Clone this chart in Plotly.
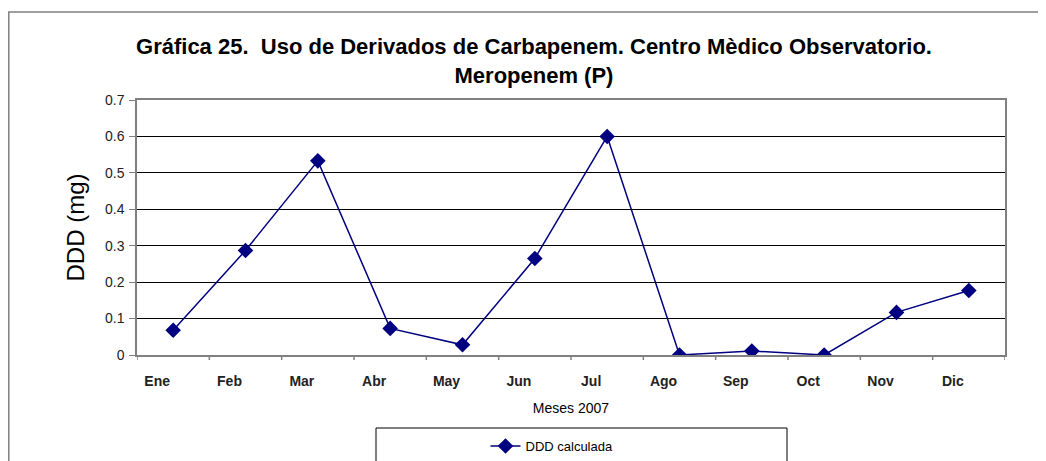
import plotly.graph_objects as go

months = ["Ene", "Feb", "Mar", "Abr", "May", "Jun", "Jul", "Ago", "Sep", "Oct", "Nov", "Dic"]
ddd = [0.068, 0.287, 0.533, 0.073, 0.028, 0.265, 0.600, 0.0, 0.011, 0.0, 0.117, 0.177]
y_ticks = [0, 0.1, 0.2, 0.3, 0.4, 0.5, 0.6, 0.7]
y_tick_text = ["0", "0.1", "0.2", "0.3", "0.4", "0.5", "0.6", "0.7"]

navy = "#000080"
font = "Liberation Sans, Arial, sans-serif"

# the page places the figure 8px from the top-left corner
OFF = 8
W, H = 1046, 461
l, r, t, b = 137 - OFF, W - (1005 - OFF), 100 - OFF, H - (355 - OFF)
PW, PH = W - l - r, H - t - b


def px(x):  # page x -> paper x
    return (x - OFF - l) / PW


def py(y):  # page y -> paper y
    return (H - b - (y - OFF)) / PH


fig = go.Figure()
fig.add_trace(go.Scatter(
    x=list(range(len(months))), y=ddd, mode="lines+markers",
    name="DDD calculada",
    line=dict(color=navy, width=1.5),
    marker=dict(symbol="diamond", size=12, color=navy),
))

fig.update_layout(
    width=W, height=H,
    margin=dict(l=l, r=r, t=t, b=b, autoexpand=False),
    paper_bgcolor="white", plot_bgcolor="white",
    font=dict(family=font, color="black"),
    title=dict(
        text="<b>Gráfica 25.  Uso de Derivados de Carbapenem. Centro Mèdico Observatorio.<br>Meropenem (P)</b>",
        x=(534 - OFF) / W, xanchor="center",
        y=1 - (54 - OFF) / H, yanchor="middle",
        xref="container", yref="container",
        font=dict(size=22, family=font),
    ),
    showlegend=True,
    legend=dict(
        x=px(552), xanchor="center",
        y=py(446), yanchor="middle",
        bgcolor="rgba(0,0,0,0)", borderwidth=0,
        font=dict(size=13, family=font),
    ),
    xaxis=dict(
        range=[-0.5, 11.5],
        automargin=False,
        tickmode="array",
        tickvals=list(range(len(months))),
        ticktext=["<b>%s</b>" % m for m in months],
        showgrid=False, zeroline=False,
        showline=True, linecolor="#808080", linewidth=1.5, mirror=True,
        ticks="", tickfont=dict(size=14, family=font, color="#222"),
        ticklabelstandoff=12, ticklabelshift=-16,
        title=dict(text="Meses 2007", font=dict(size=14, family=font), standoff=16),
    ),
    yaxis=dict(
        range=[0, 0.7],
        automargin=False,
        tickmode="array", tickvals=y_ticks, ticktext=y_tick_text,
        showgrid=True, gridcolor="black", gridwidth=1,
        zeroline=False,
        showline=True, linecolor="#808080", linewidth=1.5, mirror=True,
        ticks="outside", ticklen=6, tickcolor="#808080",
        tickfont=dict(size=14, family=font, color="#222"),
        ticklabelstandoff=2,
        title=dict(text="DDD (mg)", font=dict(size=24, family=font), standoff=14),
    ),
)

# category boundary tick marks on the x axis
for i in range(len(months) + 1):
    fig.add_shape(type="line", xref="x", yref="paper",
                  x0=i - 0.5, x1=i - 0.5, y0=0, y1=-5 / PH,
                  line=dict(color="#808080", width=1.5))

# legend box
fig.add_shape(type="rect", xref="paper", yref="paper",
              x0=px(376), x1=px(787), y0=py(475), y1=py(428),
              line=dict(color="black", width=1))

# outer frame
fig.add_shape(type="rect", xref="paper", yref="paper",
              x0=px(OFF + 0.8), x1=px(1060), y0=py(480), y1=py(12),
              line=dict(color="#808080", width=1.5))

fig.write_html("out.html")
